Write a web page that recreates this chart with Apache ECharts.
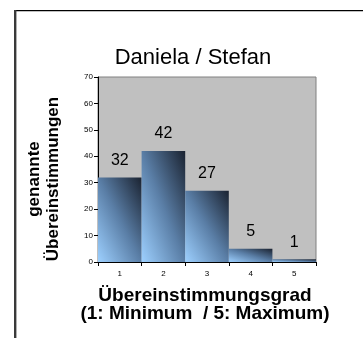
<!DOCTYPE html>
<html>
<head>
<meta charset="utf-8">
<script src="https://cdn.jsdelivr.net/npm/echarts@6/dist/echarts.min.js"></script>
<style>
  html, body { margin: 0; padding: 0; background: #ffffff; }
  #chart { width: 363px; height: 338px; }
</style>
</head>
<body>
<div id="chart"></div>
<script>
// Agreement levels and how often each was named
const categories = ['1', '2', '3', '4', '5'];
const counts = [32, 42, 27, 5, 1];
const yTicks = [0, 10, 20, 30, 40, 50, 60, 70];

const chartTitle = 'Daniela / Stefan';
const yTitle = 'genannte\nÜbereinstimmungen';
const xTitle = 'Übereinstimmungsgrad\n(1: Minimum  / 5: Maximum)';

const FONT = '"Liberation Sans", Arial, sans-serif';
const barStops = [
  { offset: 0, color: '#9dd0ff' },
  { offset: 0.5, color: '#5a7ea6' },
  { offset: 1, color: '#1a2230' }
];

const chart = echarts.init(document.getElementById('chart'), null, { renderer: 'canvas' });

chart.setOption({
  animation: false,
  backgroundColor: '#ffffff',
  grid: {
    left: 98, top: 77, width: 218, height: 185,
    show: true,
    backgroundColor: '#c0c0c0',
    borderColor: '#808080',
    borderWidth: 1
  },
  title: {
    text: chartTitle,
    left: 188, top: 42,
    textAlign: 'center',
    textStyle: { fontFamily: FONT, fontSize: 22, fontWeight: 'normal', color: '#000' }
  },
  xAxis: {
    type: 'category',
    data: categories,
    boundaryGap: true,
    axisLine: { lineStyle: { color: '#000', width: 1 } },
    axisTick: { show: true, inside: false, length: 4, alignWithLabel: false, lineStyle: { color: '#000' } },
    axisLabel: { fontFamily: FONT, fontSize: 8, color: '#000', margin: 8 }
  },
  yAxis: {
    type: 'value',
    min: yTicks[0],
    max: yTicks[yTicks.length - 1],
    interval: yTicks[1] - yTicks[0],
    splitLine: { show: false },
    axisLine: { show: true, lineStyle: { color: '#000', width: 1 } },
    axisTick: { show: true, length: 4, lineStyle: { color: '#000' } },
    axisLabel: { fontFamily: FONT, fontSize: 8, color: '#000', margin: 5 }
  },
  series: [{
    type: 'bar',
    data: counts,
    barCategoryGap: '0%',
    itemStyle: { color: new echarts.graphic.LinearGradient(0, 1, 1, 0, barStops) },
    label: {
      show: true,
      position: 'top',
      distance: 9,
      fontFamily: FONT,
      fontSize: 16,
      color: '#000'
    }
  }],
  graphic: [
    // outer frame: thin top edge, heavier left edge
    { type: 'rect', shape: { x: 14, y: 10, width: 349, height: 1.3 }, style: { fill: '#000' }, silent: true },
    { type: 'rect', shape: { x: 14, y: 10, width: 2.4, height: 328 }, style: { fill: '#3a3a3a' }, silent: true },
    {
      type: 'text',
      x: 44, y: 179,
      rotation: Math.PI / 2,
      style: {
        text: yTitle,
        fontFamily: FONT, fontSize: 17, fontWeight: 'bold',
        lineHeight: 19,
        fill: '#000',
        align: 'center', verticalAlign: 'middle'
      }
    },
    {
      type: 'text',
      x: 205, y: 305,
      style: {
        text: xTitle,
        fontFamily: FONT, fontSize: 19, fontWeight: 'bold',
        lineHeight: 18,
        fill: '#000',
        align: 'center', verticalAlign: 'middle'
      }
    }
  ]
});

// Diagonal shading in each bar's own box: isolines run parallel to the
// top-left → bottom-right diagonal, light at bottom-left, dark at top-right.
const base = chart.convertToPixel({ yAxisIndex: 0 }, 0);
const c0 = chart.convertToPixel({ xAxisIndex: 0 }, 0);
const c1 = chart.convertToPixel({ xAxisIndex: 0 }, 1);
const band = c1 - c0;
const shaded = counts.map((v, i) => {
  const cx = chart.convertToPixel({ xAxisIndex: 0 }, i);
  const top = chart.convertToPixel({ yAxisIndex: 0 }, v);
  const w = band, h = Math.max(base - top, 0.5);
  const x0 = cx - w / 2;
  const L2 = w * w + h * h;
  const k = 2 * w * h / L2;
  return {
    value: v,
    itemStyle: {
      color: new echarts.graphic.LinearGradient(
        x0, base, x0 + h * k, base - w * k, barStops, true)
    }
  };
});
chart.setOption({ series: [{ data: shaded }] });
</script>
</body>
</html>
